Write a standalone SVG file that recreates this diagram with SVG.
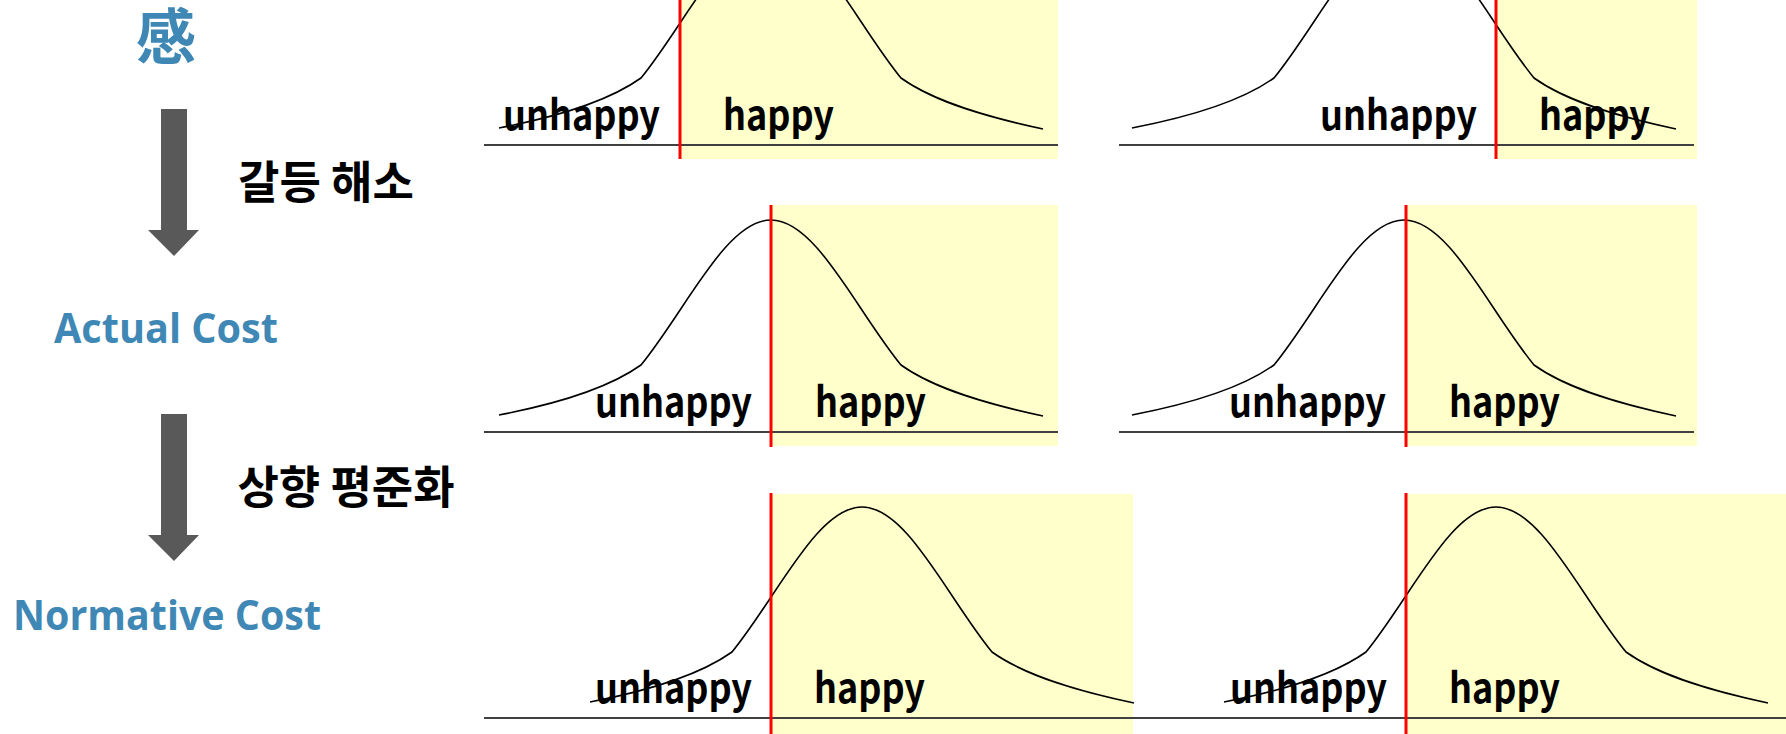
<svg xmlns="http://www.w3.org/2000/svg" width="1786" height="734" viewBox="0 0 1786 734">
<style>
.zone{fill:#FFFFCC}
.axis{stroke:#404040;stroke-width:2}
.cut{stroke:#FF0000;stroke-width:3}
.curve{fill:none;stroke:#000;stroke-width:1.6}
.lbl{font-family:"Noto Sans CJK KR","Noto Sans",sans-serif;font-weight:700;font-size:41px;fill:#000}
.title{font-family:"Open Sans","Noto Sans CJK KR",sans-serif;font-weight:700;font-size:42px;fill:#3F88B6}
.han{font-family:"Noto Sans CJK KR",sans-serif;font-weight:700;fill:#3F88B6}
.kor{font-family:"Noto Sans CJK KR",sans-serif;font-weight:700;font-size:45px;fill:#000}
.arrow{fill:#595959}
</style>
<defs>
<path id="bell" d="M -272 195 C -220 185 -165 170 -130 145 C -85 90 -45 0 0 0 C 45 0 85 90 130 145 C 165 170 220 185 272 196"/>
</defs>
<rect width="1786" height="734" fill="#fff"/>

<g id="label-gam">
<text class="han" x="166" y="59" font-size="60" text-anchor="middle">感</text>
</g>
<g id="label-actual">
<text class="title" x="54" y="343" textLength="224" lengthAdjust="spacingAndGlyphs">Actual Cost</text>
</g>
<g id="label-normative">
<text class="title" x="13" y="630" textLength="308" lengthAdjust="spacingAndGlyphs">Normative Cost</text>
</g>
<g id="label-conflict">
<text class="kor" x="326" y="199" text-anchor="middle">갈등 해소</text>
</g>
<g id="label-level">
<text class="kor" x="346" y="504" text-anchor="middle">상향 평준화</text>
</g>

<g id="panel-1">
<rect class="zone" x="680" y="-90" width="378" height="249"/>
<line class="axis" x1="484" y1="145" x2="1058" y2="145"/>
<text class="lbl" x="503" y="130" textLength="157" lengthAdjust="spacingAndGlyphs">unhappy</text>
<text class="lbl" x="723" y="130" textLength="111" lengthAdjust="spacingAndGlyphs">happy</text>
<use href="#bell" class="curve" x="771" y="-67"/>
<line class="cut" x1="680" y1="-90" x2="680" y2="159"/>
</g>
<g id="panel-2">
<rect class="zone" x="1496" y="-90" width="201" height="249"/>
<line class="axis" x1="1119" y1="145" x2="1694" y2="145"/>
<text class="lbl" x="1320" y="130" textLength="157" lengthAdjust="spacingAndGlyphs">unhappy</text>
<text class="lbl" x="1539" y="130" textLength="111" lengthAdjust="spacingAndGlyphs">happy</text>
<use href="#bell" class="curve" x="1404" y="-67"/>
<line class="cut" x1="1496" y1="-90" x2="1496" y2="159"/>
</g>
<g id="panel-3">
<rect class="zone" x="771" y="205" width="287" height="241"/>
<line class="axis" x1="484" y1="432" x2="1058" y2="432"/>
<text class="lbl" x="595" y="417" textLength="157" lengthAdjust="spacingAndGlyphs">unhappy</text>
<text class="lbl" x="815" y="417" textLength="111" lengthAdjust="spacingAndGlyphs">happy</text>
<use href="#bell" class="curve" x="771" y="220"/>
<line class="cut" x1="771" y1="205" x2="771" y2="447"/>
</g>
<g id="panel-4">
<rect class="zone" x="1406" y="205" width="291" height="241"/>
<line class="axis" x1="1119" y1="432" x2="1694" y2="432"/>
<text class="lbl" x="1229" y="417" textLength="157" lengthAdjust="spacingAndGlyphs">unhappy</text>
<text class="lbl" x="1449" y="417" textLength="111" lengthAdjust="spacingAndGlyphs">happy</text>
<use href="#bell" class="curve" x="1404" y="220"/>
<line class="cut" x1="1406" y1="205" x2="1406" y2="447"/>
</g>
<g id="panel-5">
<rect class="zone" x="771" y="494" width="362" height="240"/>
<line class="axis" x1="484" y1="718" x2="1148" y2="718"/>
<text class="lbl" x="595" y="703" textLength="157" lengthAdjust="spacingAndGlyphs">unhappy</text>
<text class="lbl" x="814" y="703" textLength="111" lengthAdjust="spacingAndGlyphs">happy</text>
<use href="#bell" class="curve" x="862" y="507"/>
<line class="cut" x1="771" y1="493" x2="771" y2="734"/>
</g>
<g id="panel-6">
<rect class="zone" x="1406" y="494" width="380" height="240"/>
<line class="axis" x1="1146" y1="718" x2="1786" y2="718"/>
<text class="lbl" x="1230" y="703" textLength="157" lengthAdjust="spacingAndGlyphs">unhappy</text>
<text class="lbl" x="1449" y="703" textLength="111" lengthAdjust="spacingAndGlyphs">happy</text>
<use href="#bell" class="curve" x="1496" y="507"/>
<line class="cut" x1="1406" y1="493" x2="1406" y2="734"/>
</g>

<g id="connectors">
<polygon class="arrow" points="161,109 187,109 187,230 199,230 174,256 148,230 161,230"/>
<polygon class="arrow" points="161,414 187,414 187,535 199,535 174,561 148,535 161,535"/>
</g>
</svg>
